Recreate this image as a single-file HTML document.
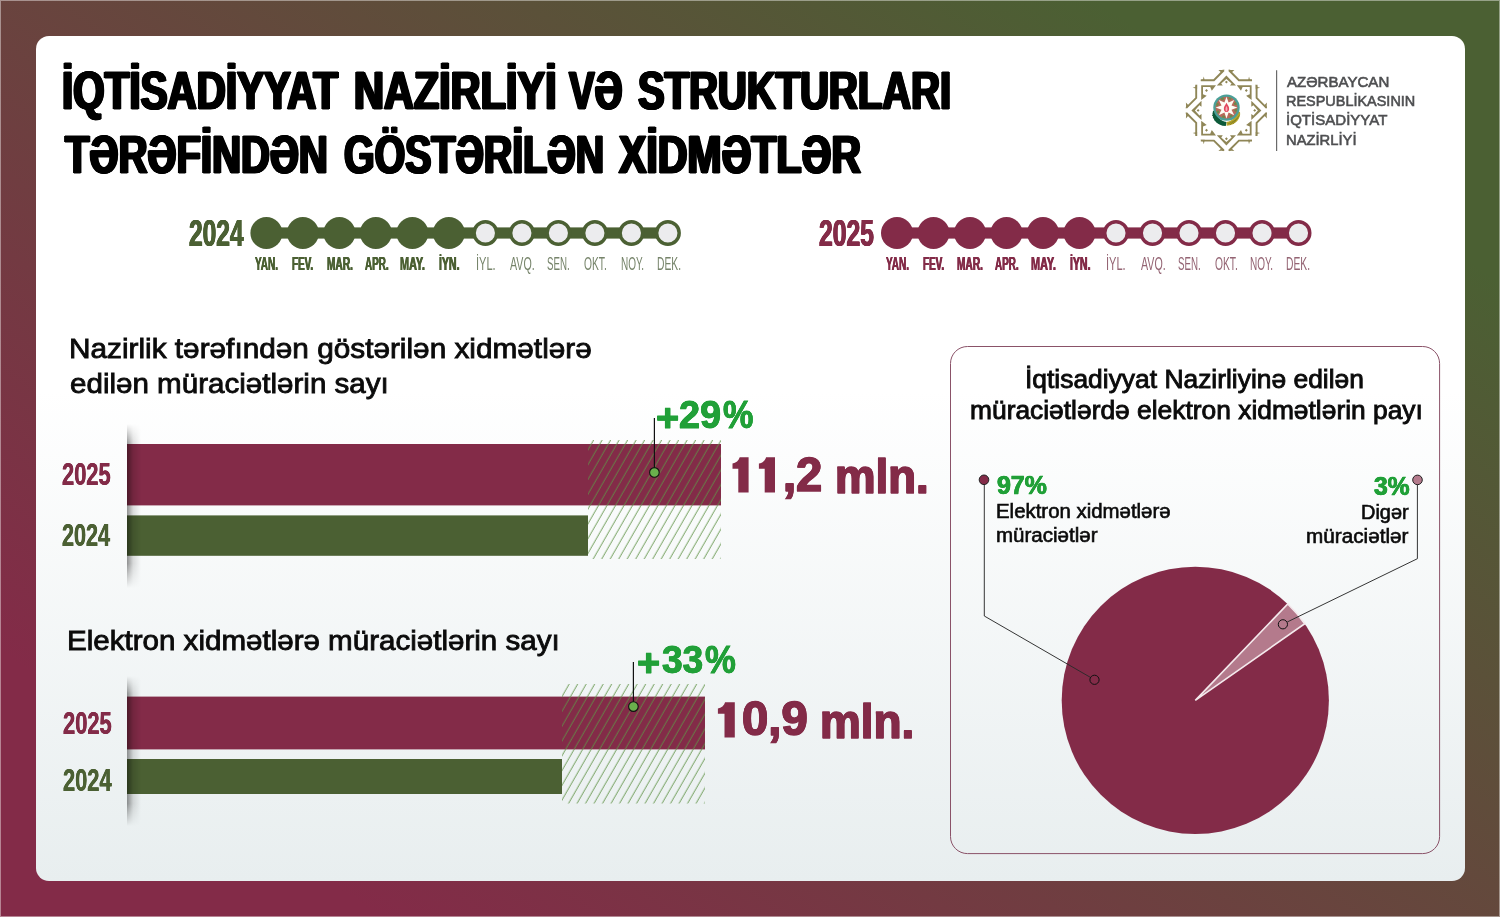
<!DOCTYPE html>
<html lang="az">
<head>
<meta charset="utf-8">
<title>İqtisadiyyat Nazirliyi</title>
<style>
html,body{margin:0;padding:0;}
body{width:1500px;height:917px;overflow:hidden;position:relative;font-family:"Liberation Sans",sans-serif;
background:linear-gradient(35deg,#832b48 0%,#832b48 13.5%,#4b6033 85.7%,#4b6033 100%);}
#frame{position:absolute;left:0;top:0;width:1498px;height:915px;border:1px solid rgba(255,255,255,0.42);}
#card{position:absolute;left:35.5px;top:36px;width:1429px;height:844.5px;border-radius:13px;
background:linear-gradient(to bottom,#ffffff 0%,#ffffff 42%,#e8eeef 100%);}
.t{position:absolute;white-space:nowrap;line-height:1;transform-origin:0 0;}
.title{font-weight:bold;font-size:56px;color:#000;-webkit-text-stroke:1.2px #000;text-shadow:0.6px 0 0 #000,-0.6px 0 0 #000,1.2px 0 0 #000,-1.2px 0 0 #000,1.8px 0 0 #000,-1.8px 0 0 #000;}
.sub{font-size:28px;color:#0b0b0b;-webkit-text-stroke:0.85px #0b0b0b;}
.yr{font-weight:bold;font-size:32px;text-shadow:0.6px 0 0 currentColor,-0.6px 0 0 currentColor,0.3px 0 0 currentColor,-0.3px 0 0 currentColor;}
.yc{font-weight:bold;font-size:32px;text-shadow:0.35px 0 0 currentColor,-0.35px 0 0 currentColor;}
.mon{font-weight:bold;font-size:16.5px;text-shadow:0.6px 0 0 currentColor,-0.6px 0 0 currentColor;}
.monl{font-weight:normal;font-size:16.5px;}
.g{color:#4b6033;}
.m{color:#832b48;}
.pct{font-weight:bold;color:#21a038;-webkit-text-stroke:0.8px #21a038;text-shadow:0.4px 0 0 currentColor,-0.4px 0 0 currentColor;}
.lg{font-size:15.5px;color:#4e4f51;-webkit-text-stroke:0.6px #4e4f51;}
.gl{color:#76846a;}
.ml{color:#946473;}
.big{font-weight:bold;font-size:50px;color:#832b48;-webkit-text-stroke:1.4px #832b48;text-shadow:0.8px 0 0 currentColor,-0.8px 0 0 currentColor,0.4px 0 0 currentColor,-0.4px 0 0 currentColor;}
svg{position:absolute;left:0;top:0;overflow:visible;}
</style>
</head>
<body>
<div id="card"></div>
<svg id="gfx" width="1500" height="917" viewBox="0 0 1500 917">
<defs>
<pattern id="hatch" x="1.1" width="8.5" height="40" patternUnits="userSpaceOnUse" patternTransform="skewX(-29.9)">
<line x1="4" y1="-2" x2="4" y2="42" stroke="#5f9146" stroke-width="0.85"/>
</pattern>
<pattern id="hatch2" x="6.5" width="8.5" height="40" patternUnits="userSpaceOnUse" patternTransform="skewX(-29.9)">
<line x1="4" y1="-2" x2="4" y2="42" stroke="#5f9146" stroke-width="0.85"/>
</pattern>
<linearGradient id="shv" x1="0" x2="1" y1="0" y2="0">
<stop offset="0" stop-color="#000" stop-opacity="0.42"/>
<stop offset="0.45" stop-color="#000" stop-opacity="0.12"/>
<stop offset="1" stop-color="#000" stop-opacity="0"/>
</linearGradient>
<linearGradient id="fadev" x1="0" x2="0" y1="0" y2="1">
<stop offset="0" stop-color="#fff" stop-opacity="0"/>
<stop offset="0.12" stop-color="#fff" stop-opacity="1"/>
<stop offset="0.85" stop-color="#fff" stop-opacity="1"/>
<stop offset="1" stop-color="#fff" stop-opacity="0"/>
</linearGradient>
<mask id="mfade" maskContentUnits="objectBoundingBox"><rect x="0" y="0" width="1" height="1" fill="url(#fadev)"/></mask>
</defs>
<rect x="266.4" y="227.4" width="401.5" height="11.2" fill="#4b6033"/>
<circle cx="266.4" cy="233" r="16" fill="#4b6033"/>
<circle cx="302.9" cy="233" r="16" fill="#4b6033"/>
<circle cx="339.4" cy="233" r="16" fill="#4b6033"/>
<circle cx="375.9" cy="233" r="16" fill="#4b6033"/>
<circle cx="412.4" cy="233" r="16" fill="#4b6033"/>
<circle cx="448.9" cy="233" r="16" fill="#4b6033"/>
<circle cx="485.4" cy="233" r="11.28" fill="#ececee" stroke="#4b6033" stroke-width="3.45"/>
<circle cx="521.9" cy="233" r="11.28" fill="#ececee" stroke="#4b6033" stroke-width="3.45"/>
<circle cx="558.4" cy="233" r="11.28" fill="#ececee" stroke="#4b6033" stroke-width="3.45"/>
<circle cx="594.9" cy="233" r="11.28" fill="#ececee" stroke="#4b6033" stroke-width="3.45"/>
<circle cx="631.4" cy="233" r="11.28" fill="#ececee" stroke="#4b6033" stroke-width="3.45"/>
<circle cx="667.9" cy="233" r="11.28" fill="#ececee" stroke="#4b6033" stroke-width="3.45"/>
<rect x="897.0" y="227.4" width="401.5" height="11.2" fill="#832b48"/>
<circle cx="897.0" cy="233" r="16" fill="#832b48"/>
<circle cx="933.5" cy="233" r="16" fill="#832b48"/>
<circle cx="970.0" cy="233" r="16" fill="#832b48"/>
<circle cx="1006.5" cy="233" r="16" fill="#832b48"/>
<circle cx="1043.0" cy="233" r="16" fill="#832b48"/>
<circle cx="1079.5" cy="233" r="16" fill="#832b48"/>
<circle cx="1116.0" cy="233" r="11.28" fill="#ececee" stroke="#832b48" stroke-width="3.45"/>
<circle cx="1152.5" cy="233" r="11.28" fill="#ececee" stroke="#832b48" stroke-width="3.45"/>
<circle cx="1189.0" cy="233" r="11.28" fill="#ececee" stroke="#832b48" stroke-width="3.45"/>
<circle cx="1225.5" cy="233" r="11.28" fill="#ececee" stroke="#832b48" stroke-width="3.45"/>
<circle cx="1262.0" cy="233" r="11.28" fill="#ececee" stroke="#832b48" stroke-width="3.45"/>
<circle cx="1298.5" cy="233" r="11.28" fill="#ececee" stroke="#832b48" stroke-width="3.45"/>

<!-- chart 1 -->
<rect x="127" y="444" width="594" height="61.4" fill="#832b48"/>
<rect x="127" y="515.4" width="461" height="40.4" fill="#4b6033"/>
<rect x="588" y="440" width="133" height="119" fill="url(#hatch)"/>
<rect x="127" y="424" width="14" height="164" fill="url(#shv)" mask="url(#mfade)"/>
<line x1="654.4" y1="418" x2="654.4" y2="472" stroke="#111" stroke-width="1.2"/>
<circle cx="654.4" cy="472.4" r="4.8" fill="#6ab04c" stroke="#111" stroke-width="1.1"/>
<path d="M732.5,463.5 C735.9,462.9 738.9,460.7 739.7,457.3 L748.6,457.3 L748.6,492.5 L738.3,492.5 L738.3,468.7 L732.5,468.7 Z" fill="#832b48"/>
<path d="M758.9,463.5 C762.3,462.9 765.3,460.7 766.1,457.3 L775.0,457.3 L775.0,492.5 L764.7,492.5 L764.7,468.7 L758.9,468.7 Z" fill="#832b48"/>
<path d="M717.9,708.5 C721.3,707.9 724.3,705.7 725.1,702.3 L734.8,702.3 L734.8,737.5 L724.5,737.5 L724.5,713.7 L717.9,713.7 Z" fill="#832b48"/>
<!-- chart 2 -->
<rect x="127" y="696.6" width="578" height="52.8" fill="#832b48"/>
<rect x="127" y="759" width="435" height="35" fill="#4b6033"/>
<rect x="562" y="684" width="143" height="119.5" fill="url(#hatch2)"/>
<rect x="127" y="676" width="14" height="150" fill="url(#shv)" mask="url(#mfade)"/>
<line x1="633.4" y1="662" x2="633.4" y2="706" stroke="#111" stroke-width="1.2"/>
<circle cx="633.4" cy="706.6" r="4.8" fill="#6ab04c" stroke="#111" stroke-width="1.1"/>


<rect x="950.5" y="346.5" width="489.1" height="507.1" rx="17" ry="17" fill="none" stroke="#8a5268" stroke-width="1"/>
<circle cx="1195.3" cy="700.4" r="133.6" fill="#832b48"/>
<path d="M1195.3,700.4 L1304.74,623.77 A133.6,133.6 0 0 0 1287.77,603.97 Z" fill="#b47a8c" stroke="#f4e9ec" stroke-width="1.6" stroke-linejoin="miter"/>
<polyline points="984.3,484 984.3,616 1090.3,677.3" fill="none" stroke="#2a2a2a" stroke-width="0.95"/>
<circle cx="984" cy="479.8" r="4.8" fill="#832b48" stroke="#222" stroke-width="1"/>
<circle cx="1094.5" cy="679.8" r="4.6" fill="#832b48" stroke="#111" stroke-width="1"/>
<polyline points="1417.4,484 1417.4,558.7 1287.2,622" fill="none" stroke="#2a2a2a" stroke-width="0.95"/>
<circle cx="1417.5" cy="479.9" r="4.8" fill="#b47a8c" stroke="#222" stroke-width="1"/>
<circle cx="1282.9" cy="624.3" r="4.6" fill="#b47a8c" stroke="#111" stroke-width="1"/>


<g transform="translate(1226.4,110.4)">
<path d="M-25.60,-30.20 L-12.51,-30.20 L-2.60,-40.11 M25.60,-30.20 L12.51,-30.20 L2.60,-40.11 M30.20,-25.60 L30.20,-12.51 L40.11,-2.60 M30.20,25.60 L30.20,12.51 L40.11,2.60 M25.60,30.20 L12.51,30.20 L2.60,40.11 M-25.60,30.20 L-12.51,30.20 L-2.60,40.11 M-30.20,25.60 L-30.20,12.51 L-40.11,2.60 M-30.20,-25.60 L-30.20,-12.51 L-40.11,-2.60 " fill="none" stroke="#8f8657" stroke-width="1.9"/>
<path d="M-25.90,-29.30 L-21.60,-29.30 L-22.60,-33.80 L-23.40,-31.20 Z M-1.70,-40.61 L-4.60,-37.51 L-8.00,-40.51 L-5.00,-40.31 Z M25.90,-29.30 L21.60,-29.30 L22.60,-33.80 L23.40,-31.20 Z M1.70,-40.61 L4.60,-37.51 L8.00,-40.51 L5.00,-40.31 Z M29.30,-25.90 L29.30,-21.60 L33.80,-22.60 L31.20,-23.40 Z M40.61,-1.70 L37.51,-4.60 L40.51,-8.00 L40.31,-5.00 Z M29.30,25.90 L29.30,21.60 L33.80,22.60 L31.20,23.40 Z M40.61,1.70 L37.51,4.60 L40.51,8.00 L40.31,5.00 Z M25.90,29.30 L21.60,29.30 L22.60,33.80 L23.40,31.20 Z M1.70,40.61 L4.60,37.51 L8.00,40.51 L5.00,40.31 Z M-25.90,29.30 L-21.60,29.30 L-22.60,33.80 L-23.40,31.20 Z M-1.70,40.61 L-4.60,37.51 L-8.00,40.51 L-5.00,40.31 Z M-29.30,25.90 L-29.30,21.60 L-33.80,22.60 L-31.20,23.40 Z M-40.61,1.70 L-37.51,4.60 L-40.51,8.00 L-40.31,5.00 Z M-29.30,-25.90 L-29.30,-21.60 L-33.80,-22.60 L-31.20,-23.40 Z M-40.61,-1.70 L-37.51,-4.60 L-40.51,-8.00 L-40.31,-5.00 Z " fill="#8f8657"/>
<path d="M-25.20,-25.20 L-10.40,-25.20 L-14.60,-19.70 L-16.20,-23.40 L-23.40,-23.40 L-23.40,-16.20 L-19.70,-14.60 L-25.20,-10.40 Z M25.20,-25.20 L25.20,-10.40 L19.70,-14.60 L23.40,-16.20 L23.40,-23.40 L16.20,-23.40 L14.60,-19.70 L10.40,-25.20 Z M25.20,25.20 L10.40,25.20 L14.60,19.70 L16.20,23.40 L23.40,23.40 L23.40,16.20 L19.70,14.60 L25.20,10.40 Z M-25.20,25.20 L-25.20,10.40 L-19.70,14.60 L-23.40,16.20 L-23.40,23.40 L-16.20,23.40 L-14.60,19.70 L-10.40,25.20 Z " fill="#8f8657"/>
<path d="M0.00,-35.00 L9.60,-24.90 L3.60,-24.90 L5.20,-27.00 L0.00,-31.50 L-5.20,-27.00 L-3.60,-24.90 L-9.60,-24.90 Z M35.00,-0.00 L24.90,9.60 L24.90,3.60 L27.00,5.20 L31.50,-0.00 L27.00,-5.20 L24.90,-3.60 L24.90,-9.60 Z M0.00,35.00 L-9.60,24.90 L-3.60,24.90 L-5.20,27.00 L0.00,31.50 L5.20,27.00 L3.60,24.90 L9.60,24.90 Z M-35.00,0.00 L-24.90,-9.60 L-24.90,-3.60 L-27.00,-5.20 L-31.50,0.00 L-27.00,5.20 L-24.90,3.60 L-24.90,9.60 Z " fill="#8f8657"/>
<path d="M0,-29.75 L1.45,-28.3 L0,-26.85 L-1.45,-28.3 Z M0,26.85 L1.45,28.3 L0,29.75 L-1.45,28.3 Z M-28.3,-1.45 L-26.85,0 L-28.3,1.45 L-29.75,0 Z M28.3,-1.45 L29.75,0 L28.3,1.45 L26.85,0 Z M-19.9,-21.349999999999998 L-18.45,-19.9 L-19.9,-18.45 L-21.349999999999998,-19.9 Z M19.9,-21.349999999999998 L21.349999999999998,-19.9 L19.9,-18.45 L18.45,-19.9 Z M-19.9,18.45 L-18.45,19.9 L-19.9,21.349999999999998 L-21.349999999999998,19.9 Z M19.9,18.45 L21.349999999999998,19.9 L19.9,21.349999999999998 L18.45,19.9 Z " fill="#8f8657"/>
<path d="M-13.4,0.5 C-15.6,7 -10,15.4 -0.6,15.6 L0.2,11.5 C-6,10.5 -10,6 -11,0 Z" fill="#0d5a3a"/>
<path d="M-14.6,2.6 l1.6,1.2 -1.6,1.2 2,1 -1.2,1.6 2.2,0.5 -0.8,1.8 2.3,0.1 -0.3,1.9 2.2,-0.4 0.3,1.9 2,-0.9 0.9,1.7 L-2,13.4 Z" fill="#0d5a3a"/>
<path d="M13.6,1.5 C14.8,7.5 9.6,14.6 0.2,15.4 L0.2,11.5 C6,10.5 10,6 11.5,0.5 Z" fill="#b7a52b"/>
<path d="M1.6,13.6 L9.8,9.4 M3.6,14.4 L11.6,7.4 M6.6,13.6 L13,5" stroke="#7f7c1f" stroke-width="0.7" fill="none"/>
<circle cx="0.1" cy="-2.8" r="13.2" fill="#4a9f97"/>
<circle cx="0.1" cy="-2.8" r="10.899999999999999" fill="#b9685a"/>
<circle cx="0.1" cy="-2.8" r="9.6" fill="none" stroke="#6b8a49" stroke-width="2.2" stroke-dasharray="2.6 5.0" transform="rotate(9 0.1 -2.8)"/>
<path d="M0.10,-13.70 L2.17,-7.79 L7.81,-10.51 L5.09,-4.87 L11.00,-2.80 L5.09,-0.73 L7.81,4.91 L2.17,2.19 L0.10,8.10 L-1.97,2.19 L-7.61,4.91 L-4.89,-0.73 L-10.80,-2.80 L-4.89,-4.87 L-7.61,-10.51 L-1.97,-7.79 Z" fill="#fdfcf4"/>
<path d="M0.1,-7.6 C1.7000000000000002,-4.8 3.1,-3.3 2.7,-0.9999999999999998 C2.4,0.8000000000000003 1.1,1.6000000000000005 0.1,1.7000000000000002 C-0.9,1.6000000000000005 -2.1999999999999997,0.8000000000000003 -2.5,-0.9999999999999998 C-2.9,-3.3 -1.5,-4.8 0.1,-7.6 Z" fill="#e2475d"/>
<path d="M0.1,-4.4 C0.9,-3.0 1.3,-1.7999999999999998 1.0,-0.3999999999999999 C0.7999999999999999,0.6000000000000001 0.4,1.0 0.1,1.0 C-0.19999999999999998,1.0 -0.6,0.6000000000000001 -0.8,-0.3999999999999999 C-1.0999999999999999,-1.7999999999999998 -0.7000000000000001,-3.0 0.1,-4.4 Z" fill="#f7aab3"/>
</g>
<line x1="1276.6" y1="70.3" x2="1276.6" y2="150.9" stroke="#6a6a6a" stroke-width="1.2"/>

</svg>
<!-- TEXT-BEGIN -->
<div class="t title" id="t1a" style="left:62.46px;top:64.27px;font-size:53.2px;transform:scaleX(0.7594);">İQTİSADİYYAT</div>
<div class="t title" id="t1b" style="left:353.57px;top:64.27px;font-size:53.2px;transform:scaleX(0.7791);">NAZİRLİYİ</div>
<div class="t title" id="t1c" style="left:568.51px;top:64.27px;font-size:53.2px;transform:scaleX(0.7218);">VƏ</div>
<div class="t title" id="t1d" style="left:638.36px;top:64.27px;font-size:53.2px;transform:scaleX(0.7516);">STRUKTURLARI</div>
<div class="t title" id="t2a" style="left:64.60px;top:127.87px;font-size:53.2px;transform:scaleX(0.7527);">TƏRƏFİNDƏN</div>
<div class="t title" id="t2b" style="left:343.64px;top:127.87px;font-size:53.2px;transform:scaleX(0.7389);">GÖSTƏRİLƏN</div>
<div class="t title" id="t2c" style="left:618.72px;top:127.87px;font-size:53.2px;transform:scaleX(0.7716);">XİDMƏTLƏR</div>
<div class="t sub" id="s1" style="left:68.90px;top:334.80px;font-size:28px;transform:scaleX(1.0630);">Nazirlik tərəfındən göstərilən xidmətlərə</div>
<div class="t sub" id="s2" style="left:69.94px;top:369.50px;font-size:28px;transform:scaleX(1.0558);">edilən müraciətlərin sayı</div>
<div class="t sub" id="s3" style="left:67.10px;top:626.50px;font-size:28px;transform:scaleX(1.0553);">Elektron xidmətlərə müraciətlərin sayı</div>
<div class="t yr g" id="y1" style="left:188.91px;top:215.59px;font-size:36.4px;transform:scaleX(0.6735);">2024</div>
<div class="t yr m" id="y2" style="left:819.11px;top:215.79px;font-size:36.4px;transform:scaleX(0.6786);">2025</div>
<div class="t yc m" id="c1a" style="left:61.70px;top:458.24px;font-size:32.2px;transform:scaleX(0.6795);">2025</div>
<div class="t yc g" id="c1b" style="left:61.72px;top:519.04px;font-size:32.2px;transform:scaleX(0.6707);">2024</div>
<div class="t yc m" id="c2a" style="left:62.81px;top:706.84px;font-size:32.2px;transform:scaleX(0.6808);">2025</div>
<div class="t yc g" id="c2b" style="left:62.81px;top:763.74px;font-size:32.2px;transform:scaleX(0.6779);">2024</div>
<div class="t pct" id="p1a" style="left:655.76px;top:397.99px;font-size:39px;transform:scaleX(1.0197);">+</div>
<div class="t pct" id="p1b" style="left:679.44px;top:394.87px;font-size:39px;transform:scaleX(0.9701);">29</div>
<div class="t pct" id="p1c" style="left:722.54px;top:394.89px;font-size:39px;transform:scaleX(0.8773);">%</div>
<div class="t pct" id="p2a" style="left:637.40px;top:642.69px;font-size:39px;transform:scaleX(1.0197);">+</div>
<div class="t pct" id="p2b" style="left:662.26px;top:639.55px;font-size:39.5px;transform:scaleX(0.9380);">33</div>
<div class="t pct" id="p2c" style="left:704.60px;top:639.56px;font-size:39.5px;transform:scaleX(0.8788);">%</div>
<div class="t big" id="b1a" style="left:783.03px;top:450.06px;font-size:49px;transform:scaleX(0.9616);">,2</div>
<div class="t big" id="b1b" style="left:835.26px;top:451.82px;font-size:49px;transform:scaleX(0.9308);">mln.</div>
<div class="t big" id="b2a" style="left:741.70px;top:694.45px;font-size:49px;transform:scaleX(0.9642);">0,9</div>
<div class="t big" id="b2b" style="left:820.26px;top:696.82px;font-size:49px;transform:scaleX(0.9351);">mln.</div>
<div class="t sub" id="pt1" style="left:1025.48px;top:366.64px;font-size:25px;transform:scaleX(1.0560);">İqtisadiyyat Nazirliyinə edilən</div>
<div class="t sub" id="pt2" style="left:969.97px;top:398.04px;font-size:25px;transform:scaleX(1.0547);">müraciətlərdə elektron xidmətlərin payı</div>
<div class="t pct" id="pp1" style="left:996.93px;top:473.44px;font-size:25px;transform:scaleX(0.9966);-webkit-text-stroke-width:0.5px;">97%</div>
<div class="t sub" id="pl1" style="left:995.53px;top:502.49px;font-size:19.5px;transform:scaleX(1.0461);-webkit-text-stroke-width:0.6px;">Elektron xidmətlərə</div>
<div class="t sub" id="pl2" style="left:995.88px;top:526.49px;font-size:19.5px;transform:scaleX(1.0524);-webkit-text-stroke-width:0.6px;">müraciətlər</div>
<div class="t pct" id="pp2" style="left:1373.76px;top:473.74px;font-size:25px;transform:scaleX(0.9854);-webkit-text-stroke-width:0.5px;">3%</div>
<div class="t sub" id="pr1" style="left:1361.48px;top:502.69px;font-size:19.5px;transform:scaleX(1.0214);-webkit-text-stroke-width:0.6px;">Digər</div>
<div class="t sub" id="pr2" style="left:1306.47px;top:526.79px;font-size:19.5px;transform:scaleX(1.0619);-webkit-text-stroke-width:0.6px;">müraciətlər</div>
<div class="t lg" id="l1" style="left:1286.99px;top:73.98px;font-size:15.5px;transform:scaleX(0.9716);">AZƏRBAYCAN</div>
<div class="t lg" id="l2" style="left:1286.06px;top:93.18px;font-size:15.5px;transform:scaleX(0.9321);">RESPUBLİKASININ</div>
<div class="t lg" id="l3" style="left:1285.85px;top:112.38px;font-size:15.5px;transform:scaleX(0.9698);">İQTİSADİYYAT</div>
<div class="t lg" id="l4" style="left:1285.99px;top:131.58px;font-size:15.5px;transform:scaleX(0.9523);">NAZİRLİYİ</div>
<div class="t mon g" id="ma0" style="left:255.06px;top:256.09px;font-size:17.5px;transform:scaleX(0.5731);">YAN.</div>
<div class="t mon g" id="ma1" style="left:292.40px;top:256.09px;font-size:17.5px;transform:scaleX(0.5672);">FEV.</div>
<div class="t mon g" id="ma2" style="left:326.66px;top:256.09px;font-size:17.5px;transform:scaleX(0.5802);">MAR.</div>
<div class="t mon g" id="ma3" style="left:364.64px;top:256.09px;font-size:17.5px;transform:scaleX(0.5656);">APR.</div>
<div class="t mon g" id="ma4" style="left:400.19px;top:256.09px;font-size:17.5px;transform:scaleX(0.6200);">MAY.</div>
<div class="t mon g" id="ma5" style="left:439.22px;top:256.09px;font-size:17.5px;transform:scaleX(0.6026);">İYN.</div>
<div class="t monl gl" id="ma6" style="left:475.59px;top:256.09px;font-size:17.5px;transform:scaleX(0.6318);">İYL.</div>
<div class="t monl gl" id="ma7" style="left:510.17px;top:256.09px;font-size:17.5px;transform:scaleX(0.6094);">AVQ.</div>
<div class="t monl gl" id="ma8" style="left:547.33px;top:256.09px;font-size:17.5px;transform:scaleX(0.5569);">SEN.</div>
<div class="t monl gl" id="ma9" style="left:584.29px;top:256.09px;font-size:17.5px;transform:scaleX(0.5855);">OKT.</div>
<div class="t monl gl" id="ma10" style="left:620.67px;top:256.09px;font-size:17.5px;transform:scaleX(0.5709);">NOY.</div>
<div class="t monl gl" id="ma11" style="left:656.71px;top:256.09px;font-size:17.5px;transform:scaleX(0.5871);">DEK.</div>
<div class="t mon m" id="mb0" style="left:885.86px;top:256.09px;font-size:17.5px;transform:scaleX(0.5731);">YAN.</div>
<div class="t mon m" id="mb1" style="left:923.20px;top:256.09px;font-size:17.5px;transform:scaleX(0.5672);">FEV.</div>
<div class="t mon m" id="mb2" style="left:957.45px;top:256.09px;font-size:17.5px;transform:scaleX(0.5802);">MAR.</div>
<div class="t mon m" id="mb3" style="left:995.45px;top:256.09px;font-size:17.5px;transform:scaleX(0.5656);">APR.</div>
<div class="t mon m" id="mb4" style="left:1031.00px;top:256.09px;font-size:17.5px;transform:scaleX(0.6200);">MAY.</div>
<div class="t mon m" id="mb5" style="left:1070.01px;top:256.09px;font-size:17.5px;transform:scaleX(0.6026);">İYN.</div>
<div class="t monl ml" id="mb6" style="left:1106.34px;top:256.09px;font-size:17.5px;transform:scaleX(0.6318);">İYL.</div>
<div class="t monl ml" id="mb7" style="left:1141.00px;top:256.09px;font-size:17.5px;transform:scaleX(0.6094);">AVQ.</div>
<div class="t monl ml" id="mb8" style="left:1178.10px;top:256.09px;font-size:17.5px;transform:scaleX(0.5569);">SEN.</div>
<div class="t monl ml" id="mb9" style="left:1215.15px;top:256.09px;font-size:17.5px;transform:scaleX(0.5855);">OKT.</div>
<div class="t monl ml" id="mb10" style="left:1250.44px;top:256.09px;font-size:17.5px;transform:scaleX(0.5709);">NOY.</div>
<div class="t monl ml" id="mb11" style="left:1286.48px;top:256.09px;font-size:17.5px;transform:scaleX(0.5871);">DEK.</div>
<!-- TEXT-END -->
<div id="frame"></div>
</body>
</html>
